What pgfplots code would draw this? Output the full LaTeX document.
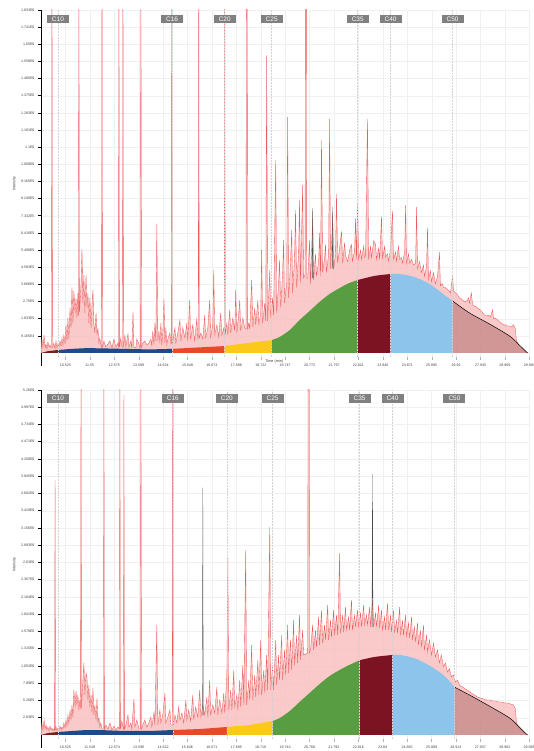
\documentclass[border=0pt]{standalone}
\usepackage{fontspec}
\setmainfont{Liberation Sans}
\usepackage{pgfplots}
\pgfplotsset{compat=1.18}
\usepackage{pgfplotstable}
\definecolor{trace}{RGB}{236,92,92}
\definecolor{tracefill}{RGB}{249,192,192}
\definecolor{cA}{RGB}{110,35,30}
\definecolor{cB}{RGB}{31,74,135}
\definecolor{cC}{RGB}{232,74,39}
\definecolor{cD}{RGB}{251,201,26}
\definecolor{cE}{RGB}{89,157,66}
\definecolor{cF}{RGB}{124,19,35}
\definecolor{cG}{RGB}{140,196,235}
\definecolor{cH}{RGB}{160,90,90}
\definecolor{lab}{RGB}{128,128,128}

\pgfplotstableread{
t v
9.50 0
9.80 0.10
10.21 0.16
10.80 0.22
11.40 0.26
11.97 0.25
13.00 0.22
14.07 0.19
15.00 0.22
16.16 0.30
17.21 0.37
18.26 0.55
19.18 0.69
19.52 0.86
19.94 1.23
20.35 1.76
20.77 2.24
21.19 2.73
21.61 3.15
22.03 3.47
22.40 3.72
22.79 3.90
23.50 4.12
24.17 4.22
24.55 4.22
25.17 4.06
25.80 3.69
26.43 3.10
26.77 2.78
27.48 2.14
28.32 1.55
29.16 0.91
29.57 0.43
29.91 0
}\curveA

\pgfplotstableread{
t v
9.50 0
9.80 0.30
10.21 0.46
10.80 0.61
11.40 0.76
11.97 0.76
13.00 0.61
14.07 0.61
15.03 0.76
16.16 0.91
17.30 1.22
18.26 1.52
19.22 2.13
19.52 2.59
19.94 3.66
20.35 5.03
20.77 6.40
21.19 7.77
21.61 8.99
22.03 9.91
22.45 10.70
22.87 11.40
23.50 11.90
24.25 12.20
24.55 12.20
25.17 11.70
25.80 10.60
26.43 9.00
26.85 7.30
27.48 6.10
28.32 4.40
29.16 2.60
29.57 1.20
29.91 0
}\curveB

\pgfplotstableread{
t v
9.50 0.16
9.54 0.75
9.58 0.32
9.63 0.96
9.67 0.27
9.71 0.48
9.75 0.21
9.79 0.59
9.84 0.32
9.88 0.43
9.92 0.27
9.94 0.30
9.96 22
9.98 0.30
10.00 0.32
10.04 0.53
10.09 0.21
10.13 0.64
10.17 0.27
10.21 0.48
10.25 0.32
10.30 0.64
10.34 0.37
10.38 0.80
10.42 0.43
10.46 0.96
10.51 0.48
10.55 1.50
10.59 0.64
10.63 1.87
10.67 0.75
10.72 2.41
10.76 1.34
10.80 3.53
10.84 1.60
10.88 3.32
10.93 2.14
10.97 2.94
11.01 1.87
11.05 3.21
11.07 2.00
11.09 22
11.11 2.20
11.13 2.41
11.18 3.74
11.22 5.56
11.26 2.67
11.30 4.17
11.34 2.14
11.39 4.17
11.43 2.41
11.47 3.21
11.51 1.60
11.55 2.94
11.60 1.34
11.64 2.57
11.68 3.37
11.72 1.60
11.76 1.07
11.81 2.14
11.85 0.96
11.89 1.34
11.93 0.53
11.97 0.80
12.01 0.43
12.04 0.30
12.06 22
12.08 0.30
12.14 0.64
12.22 0.32
12.31 0.48
12.39 0.64
12.48 0.27
12.56 0.75
12.64 0.32
12.73 0.53
12.75 0.30
12.77 22
12.79 0.30
12.85 0.80
12.89 0.32
12.92 0.30
12.94 22
12.96 0.30
13.02 0.96
13.06 0.32
13.15 1.02
13.19 0.32
13.27 0.64
13.31 0.27
13.36 2.19
13.40 0.32
13.48 0.27
13.52 0.75
13.61 0.48
13.65 0.27
13.67 0.30
13.69 22
13.72 0.30
13.77 0.53
13.86 0.64
13.94 0.43
14.03 0.53
14.11 0.75
14.15 0.37
14.19 1.18
14.24 0.48
14.28 1.60
14.32 0.64
14.36 6.90
14.40 0.64
14.45 1.18
14.49 0.53
14.53 1.60
14.57 0.43
14.61 1.07
14.66 2.89
14.70 0.53
14.74 1.34
14.78 0.43
14.82 0.75
14.91 1.07
14.95 0.53
14.97 0.50
14.99 22
15.01 0.50
15.03 0.64
15.12 1.34
15.16 0.53
15.24 1.07
15.33 1.76
15.37 0.64
15.45 1.34
15.54 0.80
15.62 1.60
15.66 0.64
15.74 2.83
15.78 0.75
15.87 1.50
15.95 0.64
16.04 1.87
16.08 0.75
16.10 0.80
16.12 22
16.14 0.80
16.21 1.07
16.29 0.75
16.37 2.03
16.41 0.80
16.50 1.34
16.58 2.83
16.62 0.80
16.71 1.60
16.75 4.44
16.79 0.96
16.88 1.50
16.96 0.86
17.04 2.14
17.09 0.96
17.17 1.34
17.19 1.00
17.21 22
17.23 1.00
17.30 1.60
17.34 0.96
17.42 2.30
17.46 1.07
17.55 1.87
17.63 1.18
17.67 3.37
17.72 1.07
17.80 2.14
17.84 2.83
17.88 1.18
17.97 1.87
18.05 1.34
18.10 1.30
18.12 22
18.15 22
18.17 1.30
18.22 1.60
18.26 1.28
18.34 3.90
18.39 1.39
18.47 2.41
18.51 1.50
18.60 2.83
18.64 1.50
18.72 2.14
18.76 5.51
18.80 1.60
18.89 2.67
18.93 1.71
18.97 15.9
19.01 1.71
19.10 4.44
19.14 1.87
19.22 2.94
19.26 2.03
19.35 10.3
19.39 2.14
19.47 3.74
19.51 4.97
19.56 2.41
19.64 4.28
19.68 6.04
19.72 2.67
19.81 3.74
19.85 12.6
19.89 2.94
19.97 4.81
20.02 6.58
20.06 3.21
20.14 5.08
20.18 7.65
20.23 3.48
20.31 5.35
20.35 8.18
20.39 3.74
20.48 8.98
20.52 4.01
20.58 4.20
20.60 22
20.63 22
20.65 4.00
20.69 4.0
20.77 6.0
20.81 3.7
20.90 7.2
20.94 3.9
21.02 5.3
21.06 4.1
21.15 4.9
21.19 6.4
21.23 4.1
21.27 11.4
21.32 4.3
21.40 5.1
21.44 5.8
21.48 4.3
21.57 5.3
21.61 12.5
21.65 4.5
21.74 7.3
21.78 4.5
21.86 5.3
21.90 8.5
21.95 4.8
22.03 5.6
22.11 6.5
22.16 4.8
22.24 5.9
22.28 5.2
22.37 4.9
22.45 5.5
22.53 5.8
22.57 4.9
22.66 5.5
22.70 7.2
22.74 5.0
22.78 8.0
22.83 5.0
22.91 5.5
22.95 5.0
23.04 5.7
23.08 5.1
23.12 5.2
23.20 12.5
23.25 5.0
23.33 5.7
23.37 5.1
23.46 6.0
23.54 5.8
23.58 5.0
23.67 5.6
23.71 5.0
23.79 7.3
23.83 5.0
23.92 5.7
23.96 5.1
24.04 5.3
24.09 4.9
24.17 5.6
24.25 7.6
24.29 5.0
24.38 5.4
24.42 4.9
24.50 5.7
24.55 5.0
24.63 5.1
24.67 4.8
24.76 5.4
24.80 7.9
24.84 4.8
24.92 5.3
24.97 4.8
25.05 5.0
25.13 4.7
25.22 4.8
25.26 7.8
25.30 4.5
25.38 4.9
25.47 4.3
25.55 4.7
25.59 4.1
25.68 4.6
25.72 6.7
25.76 3.9
25.84 4.4
25.89 3.8
25.97 4.3
26.05 3.7
26.14 4.1
26.22 5.4
26.26 3.6
26.35 3.7
26.39 3.5
26.47 3.5
26.56 3.4
26.64 3.3
26.68 3.2
26.77 4.1
26.81 3.32
26.89 3.21
26.98 3.10
27.06 2.94
27.14 2.89
27.23 2.78
27.31 2.73
27.40 2.83
27.44 2.94
27.48 2.67
27.56 3.21
27.61 2.57
27.69 2.51
27.78 2.46
27.86 2.35
27.94 2.30
28.03 2.14
28.11 2.03
28.20 1.98
28.28 2.03
28.36 1.93
28.45 2.30
28.49 1.82
28.57 1.87
28.66 1.76
28.74 1.66
28.82 1.60
28.91 1.50
28.99 1.50
29.08 1.44
29.16 1.44
29.24 1.39
29.33 1.50
29.41 1.28
29.45 0.64
29.54 0.43
29.62 0.32
29.70 0.21
29.79 0.11
29.87 0.05
29.95 0
}\redA

\pgfplotstableread{
t v
9.50 0.61
9.54 1.83
9.58 0.76
9.63 2.29
9.67 0.91
9.71 1.52
9.75 0.76
9.79 1.22
9.84 0.61
9.88 1.37
9.92 0.76
9.96 1.07
10.00 0.61
10.04 0.91
10.07 0.70
10.09 38.9
10.11 0.70
10.13 1.22
10.17 0.61
10.21 1.07
10.25 0.76
10.30 1.37
10.34 0.76
10.38 1.22
10.42 0.91
10.46 1.83
10.51 1.07
10.55 2.29
10.59 1.37
10.63 3.05
10.67 1.83
10.72 3.81
10.76 2.29
10.80 4.57
10.84 2.74
10.88 6.86
10.93 4.27
10.97 6.71
11.01 4.57
11.05 6.10
11.09 3.81
11.13 5.34
11.16 4.00
11.18 60
11.20 4.00
11.22 5.79
11.26 8.38
11.30 10.98
11.34 6.10
11.39 9.45
11.43 8.69
11.47 5.34
11.51 7.62
11.55 4.27
11.60 6.10
11.64 3.35
11.68 7.16
11.72 3.05
11.76 4.57
11.81 2.29
11.85 5.64
11.89 1.83
11.93 2.74
11.97 1.22
12.01 1.83
12.06 0.91
12.12 0.91
12.14 60
12.16 0.91
12.22 1.52
12.31 0.91
12.39 1.83
12.48 0.76
12.56 1.37
12.64 0.76
12.73 1.22
12.79 0.91
12.81 60
12.83 0.91
12.89 2.13
12.96 0.91
12.98 51.8
13.00 0.91
13.06 1.52
13.15 3.05
13.19 1.22
13.27 1.83
13.31 0.91
13.40 5.49
13.44 1.22
13.52 2.29
13.61 0.91
13.67 0.91
13.69 60
13.72 0.91
13.77 1.52
13.86 2.29
13.94 1.22
14.03 1.83
14.11 2.74
14.15 1.22
14.24 3.35
14.28 1.52
14.36 16.8
14.40 1.52
14.49 3.81
14.53 1.83
14.61 3.05
14.70 6.40
14.74 1.83
14.82 2.74
14.91 3.81
14.95 1.52
15.01 1.50
15.03 60
15.05 1.50
15.12 3.05
15.20 1.83
15.28 4.27
15.33 2.29
15.41 3.35
15.49 1.83
15.58 5.34
15.62 2.29
15.70 3.81
15.78 2.13
15.87 6.10
15.91 2.29
15.99 4.27
16.08 2.74
16.16 6.86
16.21 2.74
16.29 4.57
16.37 3.05
16.46 5.79
16.50 2.74
16.58 8.38
16.62 3.05
16.71 4.57
16.79 3.35
16.88 7.32
16.92 3.05
17.00 5.34
17.09 3.35
17.17 6.40
17.21 3.35
17.30 9.15
17.34 27.1
17.38 3.81
17.46 6.86
17.51 3.81
17.59 9.91
17.63 4.27
17.72 6.10
17.76 3.81
17.84 8.38
17.88 4.27
17.97 10.67
18.01 4.57
18.09 28.2
18.13 4.57
18.22 8.38
18.26 5.34
18.34 13.7
18.39 5.34
18.47 9.15
18.51 5.79
18.60 11.4
18.64 6.10
18.72 14.5
18.76 6.10
18.85 9.91
18.89 6.40
18.97 12.2
19.01 6.86
19.10 31.7
19.14 6.86
19.22 10.67
19.26 6.86
19.35 14.5
19.39 7.62
19.47 12.2
19.51 8.38
19.60 15.2
19.64 8.38
19.72 12.96
19.77 9.15
19.85 16.8
19.89 9.45
19.97 14.5
20.02 9.91
20.10 17.5
20.14 10.67
20.23 15.2
20.27 11.0
20.35 18.3
20.39 11.4
20.48 16.0
20.52 12.2
20.69 12.5
20.71 60
20.75 60
20.77 12.5
20.81 12.96
20.90 16.8
20.94 12.96
21.02 16.0
21.06 13.4
21.15 18.0
21.19 13.7
21.27 19.05
21.32 14.0
21.40 16.8
21.44 14.5
21.53 19.8
21.57 14.5
21.65 17.5
21.69 14.9
21.78 19.05
21.82 15.2
21.90 18.3
21.95 15.2
22.03 27.7
22.07 15.5
22.16 18.3
22.20 15.7
22.28 19.5
22.32 16.0
22.41 18.0
22.45 16.0
22.53 20.6
22.57 16.0
22.66 18.3
22.70 16.5
22.78 19.05
22.83 16.5
22.91 18.6
22.95 16.5
23.04 19.8
23.08 16.8
23.16 18.3
23.20 16.8
23.29 19.5
23.33 16.5
23.41 20.6
23.46 16.5
23.54 18.6
23.58 16.5
23.67 19.8
23.71 16.3
23.79 19.05
23.83 16.0
23.92 18.0
23.96 16.0
24.04 20.1
24.09 16.0
24.17 18.3
24.21 15.7
24.29 19.05
24.34 15.7
24.42 17.5
24.46 15.5
24.55 19.5
24.59 15.2
24.67 17.5
24.71 15.2
24.80 18.3
24.84 14.9
24.92 17.1
24.97 14.8
25.05 18.0
25.09 14.5
25.17 16.5
25.22 14.2
25.30 17.1
25.34 13.7
25.42 16.0
25.47 13.4
25.55 16.8
25.59 12.96
25.68 15.2
25.72 12.7
25.80 14.5
25.89 12.2
25.97 14.0
26.05 11.9
26.14 12.96
26.22 11.0
26.30 12.2
26.39 10.4
26.47 11.0
26.56 9.6
26.64 10.1
26.72 8.84
26.81 9.15
26.89 8.08
26.98 8.38
27.06 7.62
27.19 7.32
27.31 7.01
27.44 6.71
27.56 6.40
27.69 6.10
27.82 5.79
27.94 5.64
28.07 5.49
28.20 5.34
28.32 5.34
28.45 5.18
28.57 5.18
28.70 5.03
28.82 5.03
28.95 4.88
29.08 4.88
29.20 4.73
29.33 4.57
29.41 3.96
29.45 1.83
29.54 1.22
29.62 0.91
29.70 0.61
29.79 0.30
29.87 0.15
29.95 0
}\redB

\pgfplotstableread{
t v
20.88 4.0
20.90 7.75
20.92 4.0
nan nan
21.72 4.5
21.74 7.80
21.76 4.5
}\blkA

\pgfplotstableread{
t v
16.27 3.0
16.29 37.7
16.31 3.0
nan nan
23.39 16.5
23.41 39.8
23.43 16.5
}\blkB

\pgfplotsset{chrom/.style={
  scale only axis, width=489pt,
  xmin=9.5, xmax=30.02,
  axis x line*=bottom, axis y line*=left,
  x axis line style={draw=none},
  y axis line style={line width=0.9pt, shorten <=-9pt, -},
  tick align=outside, major tick length=3pt,
  xtick style={draw=gray!60, line width=0.3pt},
  ytick style={draw=black, line width=0.6pt},
  grid=major, grid style={gray!12, line width=0.3pt},
  tick label style={font=\fontsize{3.6}{4}\selectfont, text=black!75},
  label style={font=\fontsize{3.8}{4.2}\selectfont, text=black!75},
  /pgf/number format/assume math mode=true,
  ylabel={Intensity},
  ylabel style={yshift=-2pt},
}}
\tikzset{
  cline/.style={gray!35, dash pattern=on 2pt off 1pt, line width=0.5pt},
  clab/.style={fill=lab, text=white, font=\fontsize{6.5}{7}\selectfont, inner sep=0pt, minimum width=22pt, minimum height=8.5pt},
}

\begin{document}
\begin{tikzpicture}[x=1pt,y=1pt]
\path[use as bounding box] (0,0) rectangle (534,751);

% ---------------- top panel ----------------
\begin{axis}[chrom, at={(41pt,394pt)}, anchor=south west, height=347pt,
  ymin=-0.214, ymax=18.33,
  xtick={10.525,11.55,12.575,13.599,14.624,15.648,16.673,17.698,18.722,19.747,20.772,21.797,22.821,23.846,24.871,25.895,26.92,27.945,28.969,29.994},
  xticklabels={10.525,11.55,12.575,13.599,14.624,15.648,16.673,17.698,18.722,19.747,20.772,21.797,22.821,23.846,24.871,25.895,26.92,27.945,28.969,29.994},
  ytick={0.9165,1.833,2.7495,3.666,4.5825,5.499,6.4155,7.332,8.2485,9.165,10.0815,10.998,11.9145,12.831,13.7475,14.664,15.5805,16.497,17.4135,18.33},
  yticklabels={9.165E4,1.833E5,2.75E5,3.666E5,4.583E5,5.499E5,6.416E5,7.332E5,8.249E5,9.165E5,1.008E6,1.1E6,1.191E6,1.283E6,1.375E6,1.466E6,1.558E6,1.65E6,1.741E6,1.833E6},
  xlabel={Time (min)},
  xlabel style={at={(axis description cs:0.477,0)}, yshift=1pt},
]
\addplot[draw=none, fill=tracefill, fill opacity=0.85] table {\redA} \closedcycle;
\addplot[trace, line width=0.35pt] table {\redA};
\addplot[black!70, line width=0.3pt, unbounded coords=jump] table {\blkA};
\addplot[draw=none, fill=cA, restrict x to domain=9.49:10.211] table {\curveA} \closedcycle;
\addplot[draw=none, fill=cB, restrict x to domain=10.209:15.001] table {\curveA} \closedcycle;
\addplot[draw=none, fill=cC, restrict x to domain=14.999:17.211] table {\curveA} \closedcycle;
\addplot[draw=none, fill=cD, restrict x to domain=17.209:19.181] table {\curveA} \closedcycle;
\addplot[draw=none, fill=cE, smooth, restrict x to domain=19.179:22.791] table {\curveA} \closedcycle;
\addplot[draw=none, fill=cF, smooth, restrict x to domain=22.789:24.171] table {\curveA} \closedcycle;
\addplot[draw=none, fill=cG, smooth, restrict x to domain=24.169:26.771] table {\curveA} \closedcycle;
\addplot[draw=none, fill=cH, fill opacity=0.45, smooth, restrict x to domain=26.769:30] table {\curveA} \closedcycle;
\addplot[black, line width=0.5pt, smooth, restrict x to domain=26.769:30] table {\curveA};
\draw[cline] (axis cs:10.21,-0.214) -- (axis cs:10.21,18.33);
\draw[cline] (axis cs:15.00,-0.214) -- (axis cs:15.00,18.33);
\draw[cline] (axis cs:17.21,-0.214) -- (axis cs:17.21,18.33);
\draw[cline] (axis cs:19.18,-0.214) -- (axis cs:19.18,18.33);
\draw[cline] (axis cs:22.79,-0.214) -- (axis cs:22.79,18.33);
\draw[cline] (axis cs:24.17,-0.214) -- (axis cs:24.17,18.33);
\draw[cline] (axis cs:26.77,-0.214) -- (axis cs:26.77,18.33);
\node[clab] at (axis cs:10.21,17.86) {C10};
\node[clab] at (axis cs:15.00,17.86) {C16};
\node[clab] at (axis cs:17.21,17.86) {C20};
\node[clab] at (axis cs:19.18,17.86) {C25};
\node[clab] at (axis cs:22.79,17.86) {C35};
\node[clab] at (axis cs:24.17,17.86) {C40};
\node[clab] at (axis cs:26.77,17.86) {C50};
\end{axis}

% ---------------- bottom panel ----------------
\begin{axis}[chrom, at={(41pt,12pt)}, anchor=south west, height=349pt,
  ymin=-0.61, ymax=52.6,
  xtick={10.525,11.549,12.574,13.598,14.622,15.646,16.671,17.695,18.719,19.743,20.768,21.792,22.816,23.84,24.865,25.889,26.913,27.937,28.962,29.986},
  xticklabels={10.525,11.549,12.574,13.598,14.622,15.646,16.671,17.695,18.719,19.743,20.768,21.792,22.816,23.84,24.865,25.889,26.913,27.937,28.962,29.986},
  ytick={2.63,5.26,7.89,10.52,13.15,15.78,18.41,21.04,23.67,26.3,28.93,31.56,34.19,36.82,39.45,42.08,44.71,47.34,49.97,52.6},
  yticklabels={2.63E5,5.26E5,7.89E5,1.052E6,1.315E6,1.578E6,1.841E6,2.104E6,2.367E6,2.63E6,2.893E6,3.156E6,3.419E6,3.682E6,3.945E6,4.208E6,4.471E6,4.734E6,4.997E6,5.26E6},
]
\addplot[draw=none, fill=tracefill, fill opacity=0.85] table {\redB} \closedcycle;
\addplot[trace, line width=0.35pt] table {\redB};
\addplot[black!70, line width=0.3pt, unbounded coords=jump] table {\blkB};
\addplot[draw=none, fill=cA, restrict x to domain=9.49:10.211] table {\curveB} \closedcycle;
\addplot[draw=none, fill=cB, restrict x to domain=10.209:15.031] table {\curveB} \closedcycle;
\addplot[draw=none, fill=cC, restrict x to domain=15.029:17.301] table {\curveB} \closedcycle;
\addplot[draw=none, fill=cD, restrict x to domain=17.299:19.221] table {\curveB} \closedcycle;
\addplot[draw=none, fill=cE, smooth, restrict x to domain=19.219:22.871] table {\curveB} \closedcycle;
\addplot[draw=none, fill=cF, smooth, restrict x to domain=22.869:24.251] table {\curveB} \closedcycle;
\addplot[draw=none, fill=cG, smooth, restrict x to domain=24.249:26.851] table {\curveB} \closedcycle;
\addplot[draw=none, fill=cH, fill opacity=0.45, smooth, restrict x to domain=26.849:30] table {\curveB} \closedcycle;
\addplot[black, line width=0.5pt, smooth, restrict x to domain=26.849:30] table {\curveB};
\draw[cline] (axis cs:10.21,-0.61) -- (axis cs:10.21,52.6);
\draw[cline] (axis cs:15.03,-0.61) -- (axis cs:15.03,52.6);
\draw[cline] (axis cs:17.30,-0.61) -- (axis cs:17.30,52.6);
\draw[cline] (axis cs:19.22,-0.61) -- (axis cs:19.22,52.6);
\draw[cline] (axis cs:22.87,-0.61) -- (axis cs:22.87,52.6);
\draw[cline] (axis cs:24.25,-0.61) -- (axis cs:24.25,52.6);
\draw[cline] (axis cs:26.85,-0.61) -- (axis cs:26.85,52.6);
\node[clab] at (axis cs:10.21,51.3) {C10};
\node[clab] at (axis cs:15.03,51.3) {C16};
\node[clab] at (axis cs:17.30,51.3) {C20};
\node[clab] at (axis cs:19.22,51.3) {C25};
\node[clab] at (axis cs:22.87,51.3) {C35};
\node[clab] at (axis cs:24.25,51.3) {C40};
\node[clab] at (axis cs:26.85,51.3) {C50};
\end{axis}
\end{tikzpicture}
\end{document}
